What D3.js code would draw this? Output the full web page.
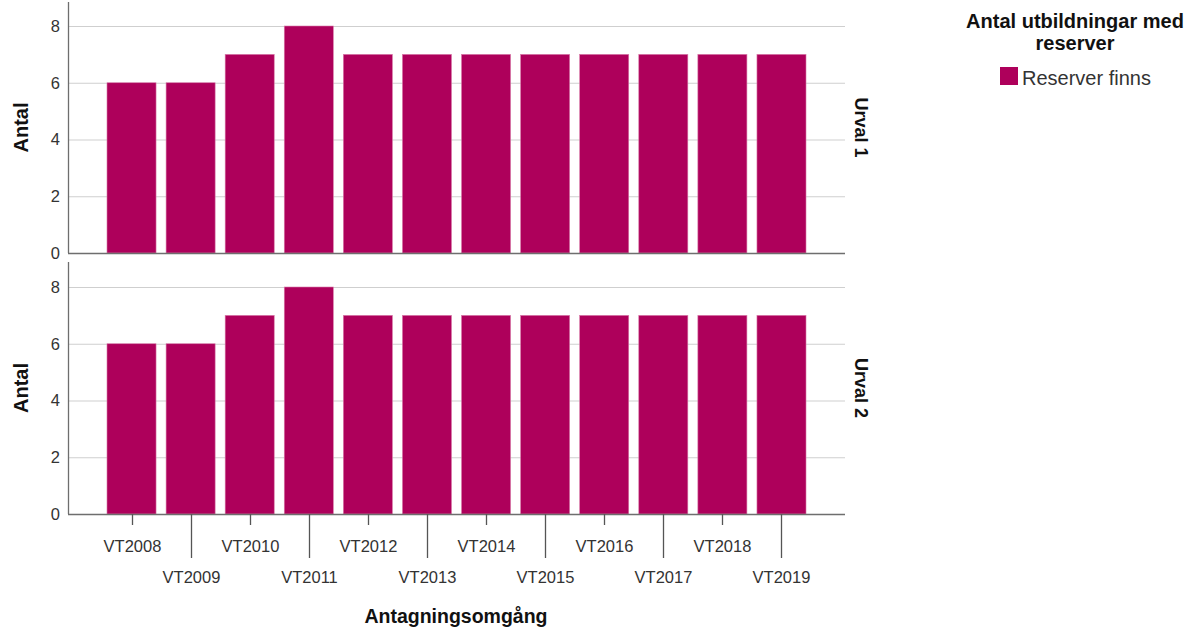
<!DOCTYPE html>
<html><head><meta charset="utf-8">
<script src="https://cdn.jsdelivr.net/npm/d3@7"></script>
<style>body{margin:0;background:#fff}svg{display:block}</style>
</head><body>
<script>
const categories = ["VT2008","VT2009","VT2010","VT2011","VT2012","VT2013","VT2014","VT2015","VT2016","VT2017","VT2018","VT2019"];
const urval1 = [6,6,7,8,7,7,7,7,7,7,7,7];
const urval2 = [6,6,7,8,7,7,7,7,7,7,7,7];
const panels = ["Urval 1","Urval 2"];
const yTicks = [0,2,4,6,8];
const legendTitle = ["Antal utbildningar med","reserver"];
const seriesName = "Reserver finns";
const yLabel = "Antal";
const xLabel = "Antagningsomgång";

const W=1195,H=629, color="#AE005B", font="Arial, 'Liberation Sans', sans-serif";
const svg=d3.select("body").append("svg").attr("width",W).attr("height",H).style("font-family",font);
const x=d3.scaleBand().domain(categories).range([68,845]).paddingInner(0.17).paddingOuter(0.66);
const panelDefs=[{name:panels[0],data:urval1,top:2,bottom:253},{name:panels[1],data:urval2,top:262,bottom:514}];
panelDefs.forEach((p,pi)=>{
  const y=d3.scaleLinear().domain([0,8]).range([p.bottom,p.bottom-227]);
  const g=svg.append("g");
  g.selectAll("line.grid").data(yTicks.filter(d=>d>0)).join("line")
    .attr("x1",68).attr("x2",845).attr("y1",d=>y(d)+0.5).attr("y2",d=>y(d)+0.5)
    .attr("stroke","#cfcfcf").attr("stroke-width",1);
  g.selectAll("rect").data(p.data).join("rect")
    .attr("x",(d,i)=>x(categories[i])).attr("width",x.bandwidth())
    .attr("y",d=>y(d)).attr("height",d=>y(0)-y(d))
    .attr("fill",color).attr("stroke","#d87aa8").attr("stroke-width",0.6);
  g.append("line").attr("x1",68).attr("x2",845).attr("y1",p.bottom+0.5).attr("y2",p.bottom+0.5).attr("stroke","#6e6e6e").attr("stroke-width",1.3);
  g.append("line").attr("x1",68.5).attr("x2",68.5).attr("y1",p.top).attr("y2",p.bottom).attr("stroke","#6e6e6e").attr("stroke-width",1.3);
  g.selectAll("text.yt").data(yTicks).join("text")
    .attr("x",60).attr("y",d=>y(d)).attr("dy","0.36em").attr("text-anchor","end")
    .attr("font-size",16.5).attr("fill","#333").text(d=>d);
  const cy=(p.top+p.bottom)/2;
  g.append("text").attr("transform",`translate(28,${cy}) rotate(-90)`).attr("text-anchor","middle")
    .attr("font-size",20).attr("font-weight","bold").attr("fill","#111").text(yLabel);
  g.append("text").attr("transform",`translate(855,${cy}) rotate(90)`).attr("text-anchor","middle")
    .attr("font-size",18).attr("font-weight","bold").attr("fill","#111").text(p.name);
});
// x axis ticks
const xa=svg.append("g");
categories.forEach((c,i)=>{
  const cx=Math.round(x(c)+x.bandwidth()/2)+0.5;
  const long=i%2===1;
  xa.append("line").attr("x1",cx).attr("x2",cx).attr("y1",514).attr("y2",long?558:525).attr("stroke","#555").attr("stroke-width",1.3);
  xa.append("text").attr("x",cx).attr("y",long?583:552).attr("text-anchor","middle")
    .attr("font-size",16.5).attr("fill","#333").text(c);
});
svg.append("text").attr("x",456).attr("y",623).attr("text-anchor","middle").attr("font-size",19.5).attr("font-weight","bold").attr("fill","#111").text(xLabel);
// legend
const lg=svg.append("g");
lg.selectAll("text.lt").data(legendTitle).join("text").attr("x",1075).attr("y",(d,i)=>28+i*22)
  .attr("text-anchor","middle").attr("font-size",20).attr("font-weight","bold").attr("fill","#111").text(d=>d);
lg.append("rect").attr("x",1000).attr("y",67).attr("width",18).attr("height",18).attr("fill",color);
lg.append("text").attr("x",1022).attr("y",85).attr("font-size",20).attr("fill","#333").text(seriesName);
</script>
</body></html>
